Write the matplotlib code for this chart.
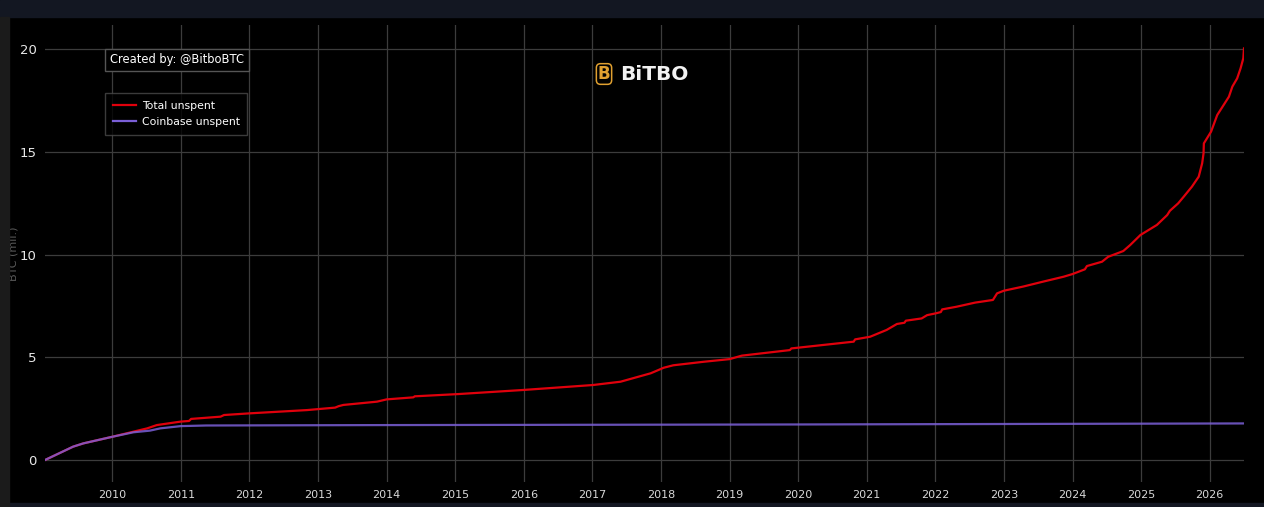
import matplotlib
matplotlib.use("Agg")
import matplotlib.pyplot as plt
from matplotlib.patches import Rectangle

# ---- data (decimal years, BTC in millions) ----
total_years = [2009.02, 2009.43, 2009.58, 2010.0, 2010.31, 2010.51, 2010.65, 2011.0, 2011.12, 2011.15,
               2011.58, 2011.63, 2012.0, 2012.84, 2013.25, 2013.30, 2013.37, 2013.86, 2014.0, 2014.39,
               2014.41, 2015.05, 2016.0, 2017.01, 2017.41, 2017.85, 2018.04, 2018.18, 2018.62, 2019.0,
               2019.18, 2019.88, 2019.90, 2020.81, 2020.83, 2021.05, 2021.29, 2021.44, 2021.55, 2021.57,
               2021.80, 2021.88, 2022.01, 2022.08, 2022.10, 2022.31, 2022.58, 2022.84, 2022.90, 2023.0,
               2023.28, 2023.57, 2023.87, 2024.0, 2024.18, 2024.21, 2024.43, 2024.52, 2024.74, 2024.84,
               2024.99, 2025.23, 2025.38, 2025.42, 2025.54, 2025.62, 2025.74, 2025.84, 2025.89, 2025.91,
               2025.915, 2026.02, 2026.11, 2026.28, 2026.33, 2026.40, 2026.45, 2026.49, 2026.50]
total_unspent = [0.0, 0.65, 0.81, 1.13, 1.38, 1.54, 1.70, 1.87, 1.90, 2.00,
                 2.11, 2.19, 2.27, 2.43, 2.55, 2.62, 2.68, 2.84, 2.95, 3.05,
                 3.10, 3.21, 3.41, 3.65, 3.81, 4.22, 4.49, 4.61, 4.78, 4.91,
                 5.08, 5.35, 5.43, 5.76, 5.87, 6.00, 6.33, 6.62, 6.68, 6.78,
                 6.89, 7.05, 7.14, 7.20, 7.33, 7.46, 7.66, 7.79, 8.11, 8.24,
                 8.44, 8.68, 8.92, 9.05, 9.28, 9.44, 9.65, 9.89, 10.17, 10.46,
                 10.95, 11.44, 11.92, 12.13, 12.49, 12.81, 13.30, 13.79, 14.44, 14.92,
                 15.41, 15.98, 16.79, 17.68, 18.17, 18.57, 19.06, 19.55, 20.03]

coinbase_years = [2009.02, 2009.43, 2009.58, 2010.0, 2010.31, 2010.55, 2010.70, 2011.0, 2011.37,
                  2014.0, 2020.0, 2026.5]
coinbase_unspent = [0.0, 0.65, 0.81, 1.13, 1.35, 1.43, 1.54, 1.65, 1.68, 1.70, 1.73, 1.78]

year_ticks = list(range(2010, 2027))
value_ticks = [0, 5, 10, 15, 20]

W, H = 1264, 507
fig = plt.figure(figsize=(W / 100, H / 100), dpi=100, facecolor="#000000")

# frame strips (drawn above the faint axis title so it looks clipped)
fig.patches.append(Rectangle((0, (H - 17) / H), 1, 17 / H, transform=fig.transFigure,
                             color="#131722", zorder=10))
fig.patches.append(Rectangle((0, 0), 1, 4 / H, transform=fig.transFigure,
                             color="#131722", zorder=10))
fig.patches.append(Rectangle((0, 0), 9 / W, (H - 17) / H, transform=fig.transFigure,
                             color="#1b1b1b", zorder=10))

x0, x1 = 45, 1244
ytop, ybot = 25, 482
ax = fig.add_axes([x0 / W, (H - ybot) / H, (x1 - x0) / W, (ybot - ytop) / H])
ax.set_facecolor("#000000")

ax.plot(total_years, total_unspent, color="#e0000c", lw=1.6, label="Total unspent",
        solid_joinstyle="round", zorder=3)
ax.plot(coinbase_years, coinbase_unspent, color="#7a5fd6", lw=1.6, alpha=0.85,
        label="Coinbase unspent", solid_joinstyle="round", zorder=4)

ax.set_xlim(2009.02, 2026.5)
ax.set_ylim(-1.07, 21.17)
ax.set_xticks(year_ticks)
ax.set_xticklabels([str(y) for y in year_ticks])
ax.set_yticks(value_ticks)
ax.set_yticklabels([str(v) for v in value_ticks])
ax.tick_params(axis="x", length=0, pad=6, colors="#d8d8d8", labelsize=8)
ax.tick_params(axis="y", length=0, pad=6, colors="#e8e8e8", labelsize=9.5)
ax.grid(True, color="#3c3c3c", lw=0.9)
ax.set_axisbelow(True)
for s in ax.spines.values():
    s.set_visible(False)

# legend
leg = ax.legend(loc="upper left", bbox_to_anchor=((105 - x0) / (x1 - x0), (ybot - 93) / (ybot - ytop)),
                frameon=True, fontsize=7.8, labelcolor="#ffffff", handlelength=2.2,
                borderpad=0.7, labelspacing=0.6, handletextpad=0.5, fancybox=False,
                borderaxespad=0)
leg.get_frame().set_facecolor("#000000")
leg.get_frame().set_edgecolor("#4a4a4a")
leg.get_frame().set_linewidth(1.0)
for lh in leg.get_lines():
    lh.set_alpha(1.0)

# created-by box
fig.text(110 / W, (H - 60) / H, "Created by: @BitboBTC", color="#ffffff", fontsize=8.3,
         va="center", ha="left",
         bbox=dict(boxstyle="square,pad=0.4", facecolor="#000000", edgecolor="#555555", lw=1.0))

# logo
fig.text(604 / W, (H - 74) / H, "B", color="#e0a030", fontsize=12, fontweight="bold",
         ha="center", va="center",
         bbox=dict(boxstyle="round,pad=0.08,rounding_size=0.25", facecolor="none",
                   edgecolor="#e0a030", lw=1.1))
fig.text(654 / W, (H - 74) / H, "BiTBO", color="#f2f2f2", fontsize=14.5, fontweight="bold",
         ha="center", va="center")

# y-axis title (faint, partly clipped at left)
fig.text(14 / W, (H - 254) / H, "BTC (mil.)", color="#5a5a5a", fontsize=8,
         rotation=90, ha="center", va="center", zorder=5)

fig.savefig("out.png", dpi=100, facecolor=fig.get_facecolor())
